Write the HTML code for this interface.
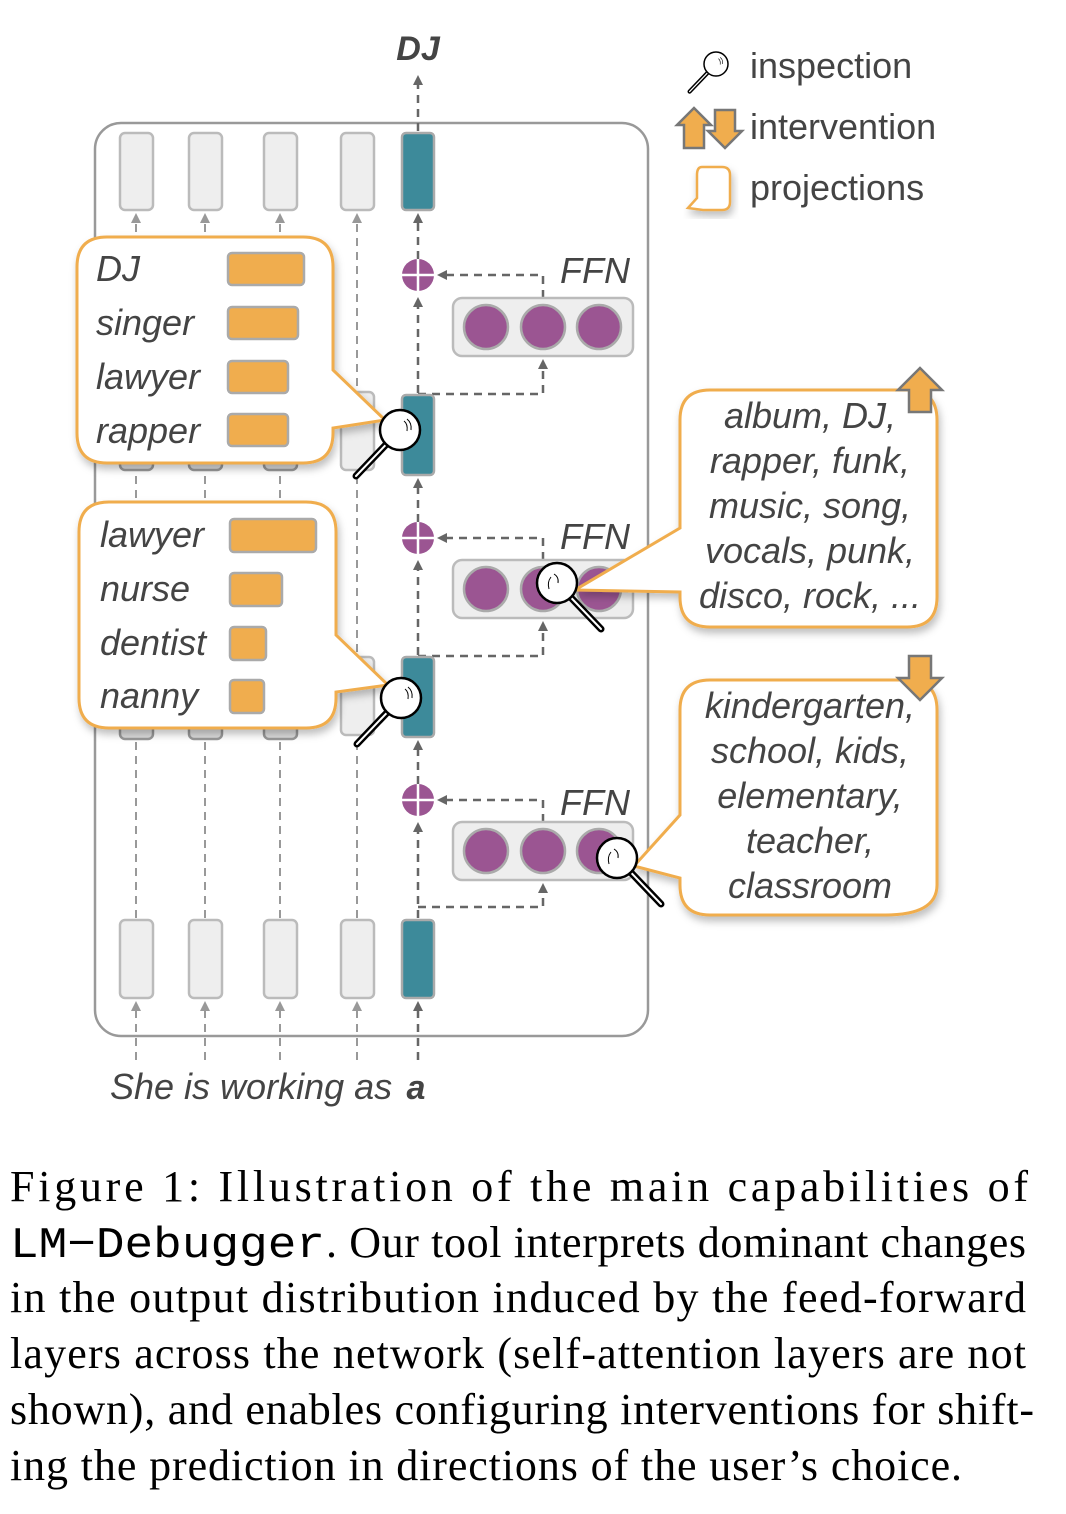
<!DOCTYPE html>
<html><head><meta charset="utf-8"><style>
html,body{margin:0;padding:0;background:#fff;}
svg{display:block;}
.it{font-family:"Liberation Sans Narrow","Liberation Sans",sans-serif;font-style:italic;fill:#444;}
.cap{font-family:"Liberation Serif",serif;font-size:44px;fill:#000;}
</style></head><body>
<svg width="1066" height="1514" viewBox="0 0 1066 1514" xmlns="http://www.w3.org/2000/svg">
<defs>
<marker id="ah" markerWidth="10" markerHeight="10" refX="5" refY="5" orient="auto" markerUnits="userSpaceOnUse"><path d="M0,0 L10,5 L0,10 Z" fill="#666"/></marker>
<marker id="ahg" markerWidth="10" markerHeight="10" refX="5" refY="5" orient="auto" markerUnits="userSpaceOnUse"><path d="M0,0 L10,5 L0,10 Z" fill="#999"/></marker>
<filter id="sh" x="-10%" y="-10%" width="130%" height="130%"><feDropShadow dx="2" dy="5" stdDeviation="4" flood-color="#000" flood-opacity="0.25"/></filter>
<g id="mag"><line x1="0" y1="0" x2="-44" y2="46" stroke="#000" stroke-width="7" stroke-linecap="round"/><line x1="0" y1="0" x2="-44" y2="46" stroke="#fff" stroke-width="2" stroke-linecap="round"/><circle cx="0" cy="0" r="20" fill="#fff" stroke="#000" stroke-width="2.5"/><path d="M4,-9 q4,3 3,10 M7,-11 q5,4 4,11" stroke="#000" fill="none" stroke-width="1"/></g>
<g id="magr"><line x1="0" y1="0" x2="44" y2="46" stroke="#000" stroke-width="7" stroke-linecap="round"/><line x1="0" y1="0" x2="44" y2="46" stroke="#fff" stroke-width="2" stroke-linecap="round"/><circle cx="0" cy="0" r="20" fill="#fff" stroke="#000" stroke-width="2.5"/><path d="M-6,-6 q-4,5 -2,12 M-3,-9 q5,3 4,9" stroke="#000" fill="none" stroke-width="1"/></g>
</defs>

<rect x="95" y="123" width="553" height="913" rx="26" fill="#fff" stroke="#999" stroke-width="2.5"/>

<g stroke="#999" stroke-width="2" stroke-dasharray="8,6" fill="none">
<line x1="136" y1="1060" x2="136" y2="1006" marker-end="url(#ahg)"/>
<line x1="205" y1="1060" x2="205" y2="1006" marker-end="url(#ahg)"/>
<line x1="280" y1="1060" x2="280" y2="1006" marker-end="url(#ahg)"/>
<line x1="357" y1="1060" x2="357" y2="1006" marker-end="url(#ahg)"/>
<line x1="136" y1="918" x2="136" y2="218" marker-end="url(#ahg)"/>
<line x1="205" y1="918" x2="205" y2="218" marker-end="url(#ahg)"/>
<line x1="280" y1="918" x2="280" y2="218" marker-end="url(#ahg)"/>
<line x1="357" y1="918" x2="357" y2="218" marker-end="url(#ahg)"/>
</g>
<g stroke="#666" stroke-width="2.5" stroke-dasharray="8,6" fill="none">
<line x1="418" y1="1060" x2="418" y2="1006" marker-end="url(#ah)"/>
<line x1="418" y1="918" x2="418" y2="827" marker-end="url(#ah)"/>
<line x1="418" y1="784" x2="418" y2="745" marker-end="url(#ah)"/>
<line x1="418" y1="655" x2="418" y2="565" marker-end="url(#ah)"/>
<line x1="418" y1="522" x2="418" y2="483" marker-end="url(#ah)"/>
<line x1="418" y1="393" x2="418" y2="302" marker-end="url(#ah)"/>
<line x1="418" y1="259" x2="418" y2="218" marker-end="url(#ah)"/>
<line x1="418" y1="131" x2="418" y2="80" marker-end="url(#ah)"/>
<polyline points="418,394 543,394 543,364" marker-end="url(#ah)"/>
<polyline points="543,298 543,275 442,275" marker-end="url(#ah)"/>
<polyline points="418,656 543,656 543,626" marker-end="url(#ah)"/>
<polyline points="543,560 543,538 442,538" marker-end="url(#ah)"/>
<polyline points="418,907 543,907 543,888" marker-end="url(#ah)"/>
<polyline points="543,822 543,800 442,800" marker-end="url(#ah)"/>
</g>

<g fill="#eee" stroke="#bbb" stroke-width="2.5">
<rect x="120" y="133" width="33" height="77" rx="5"/>
<rect x="189" y="133" width="33" height="77" rx="5"/>
<rect x="264" y="133" width="33" height="77" rx="5"/>
<rect x="341" y="133" width="33" height="77" rx="5"/>
<rect x="120" y="920" width="33" height="78" rx="5"/>
<rect x="189" y="920" width="33" height="78" rx="5"/>
<rect x="264" y="920" width="33" height="78" rx="5"/>
<rect x="341" y="920" width="33" height="78" rx="5"/>
<rect x="341" y="392" width="33" height="78" rx="5"/>
<rect x="341" y="657" width="33" height="78" rx="5"/>
<rect x="120" y="440" width="33" height="30" rx="5" fill="#ddd" stroke="#999"/>
<rect x="189" y="440" width="33" height="30" rx="5" fill="#ddd" stroke="#999"/>
<rect x="264" y="440" width="33" height="30" rx="5" fill="#ddd" stroke="#999"/>
<rect x="120" y="705" width="33" height="34" rx="5" fill="#ddd" stroke="#999"/>
<rect x="189" y="705" width="33" height="34" rx="5" fill="#ddd" stroke="#999"/>
<rect x="264" y="705" width="33" height="34" rx="5" fill="#ddd" stroke="#999"/>
</g>
<g fill="#3d8a9a" stroke="#aaa" stroke-width="2.5">
<rect x="402" y="133" width="32" height="77" rx="4"/>
<rect x="402" y="395" width="32" height="80" rx="4"/>
<rect x="402" y="657" width="32" height="80" rx="4"/>
<rect x="402" y="920" width="32" height="78" rx="4"/>
</g>

<g>
<circle cx="418" cy="275" r="16" fill="#9b5592"/><path d="M402,275 H434 M418,259 V291" stroke="#fff" stroke-width="2.5"/>
<circle cx="418" cy="538" r="16" fill="#9b5592"/><path d="M402,538 H434 M418,522 V554" stroke="#fff" stroke-width="2.5"/>
<circle cx="418" cy="800" r="16" fill="#9b5592"/><path d="M402,800 H434 M418,784 V816" stroke="#fff" stroke-width="2.5"/>
</g>

<g>
<rect x="453" y="298" width="180" height="58" rx="9" fill="#eee" stroke="#bbb" stroke-width="2.5"/>
<rect x="453" y="560" width="180" height="58" rx="9" fill="#eee" stroke="#bbb" stroke-width="2.5"/>
<rect x="453" y="822" width="180" height="58" rx="9" fill="#eee" stroke="#bbb" stroke-width="2.5"/>
<g fill="#9b5592" stroke="#aaa" stroke-width="2.5">
<circle cx="486" cy="327" r="22"/><circle cx="543" cy="327" r="22"/><circle cx="599" cy="327" r="22"/>
<circle cx="486" cy="589" r="22"/><circle cx="543" cy="589" r="22"/><circle cx="599" cy="589" r="22"/>
<circle cx="486" cy="851" r="22"/><circle cx="543" cy="851" r="22"/><circle cx="599" cy="851" r="22"/>
</g>
<text class="it" x="560" y="283" font-size="36">FFN</text>
<text class="it" x="560" y="549" font-size="36">FFN</text>
<text class="it" x="560" y="815" font-size="36">FFN</text>
</g>

<text x="418" y="60" text-anchor="middle" font-family="Liberation Sans,sans-serif" font-style="italic" font-weight="bold" font-size="34" fill="#444">DJ</text>
<text class="it" x="110" y="1099" font-size="36">She is working as</text>
<text x="416" y="1099" text-anchor="middle" font-family="Liberation Sans,sans-serif" font-style="italic" font-weight="bold" font-size="34" fill="#444">a</text>

<path filter="url(#sh)" d="M107,237 H303 Q333,237 333,267 V370 L385,420 L333,428 V433 Q333,463 303,463 H107 Q77,463 77,433 V267 Q77,237 107,237 Z" fill="#fff" stroke="#f0ad4e" stroke-width="3"/>
<g class="it" font-size="36">
<text x="96" y="281">DJ</text><text x="96" y="335">singer</text><text x="96" y="389">lawyer</text><text x="96" y="443">rapper</text>
</g>
<g fill="#f0ad4e" stroke="#aaa" stroke-width="2.5">
<rect x="228" y="253" width="76" height="32" rx="4"/>
<rect x="228" y="307" width="70" height="32" rx="4"/>
<rect x="228" y="361" width="60" height="32" rx="4"/>
<rect x="228" y="414" width="60" height="32" rx="4"/>
</g>
<use href="#mag" x="400" y="430"/>

<path filter="url(#sh)" d="M109,502 H306 Q336,502 336,532 V635 L388,685 L336,692 V698 Q336,728 306,728 H109 Q79,728 79,698 V532 Q79,502 109,502 Z" fill="#fff" stroke="#f0ad4e" stroke-width="3"/>
<g class="it" font-size="36">
<text x="100" y="547">lawyer</text><text x="100" y="601">nurse</text><text x="100" y="655">dentist</text><text x="100" y="708">nanny</text>
</g>
<g fill="#f0ad4e" stroke="#aaa" stroke-width="2.5">
<rect x="230" y="519" width="86" height="33" rx="4"/>
<rect x="230" y="573" width="52" height="33" rx="4"/>
<rect x="230" y="627" width="36" height="33" rx="4"/>
<rect x="230" y="680" width="34" height="33" rx="4"/>
</g>
<use href="#mag" x="401" y="698"/>

<path filter="url(#sh)" d="M710,390 H907 Q937,390 937,420 V597 Q937,627 907,627 H710 Q680,627 680,597 V592 L575,590 L680,528 V420 Q680,390 710,390 Z" fill="#fff" stroke="#f0ad4e" stroke-width="3"/>
<g class="it" font-size="36" text-anchor="middle">
<text x="810" y="428">album, DJ,</text><text x="810" y="473">rapper, funk,</text><text x="810" y="518">music, song,</text><text x="810" y="563">vocals, punk,</text><text x="810" y="608">disco, rock, ...</text>
</g>
<use href="#magr" x="557" y="583"/>
<path d="M909,412 V390 H898 L920,368 L942,390 H931 V412 Z" fill="#f0ad4e" stroke="#777" stroke-width="2.5"/>

<path filter="url(#sh)" d="M710,680 H907 Q937,680 937,710 V885 Q937,915 885,915 H710 Q680,915 680,885 V878 L634,866 L680,815 V710 Q680,680 710,680 Z" fill="#fff" stroke="#f0ad4e" stroke-width="3"/>
<g class="it" font-size="36" text-anchor="middle">
<text x="810" y="718">kindergarten,</text><text x="810" y="763">school, kids,</text><text x="810" y="808">elementary,</text><text x="810" y="853">teacher,</text><text x="810" y="898">classroom</text>
</g>
<use href="#magr" x="617" y="858"/>
<path d="M909,656 V678 H898 L920,700 L942,678 H931 V656 Z" fill="#f0ad4e" stroke="#777" stroke-width="2.5"/>

<!-- legend -->
<g transform="translate(716,64) scale(0.6)"><use href="#mag" x="0" y="0"/></g>
<g font-family="Liberation Sans,sans-serif" font-size="36" fill="#444">
<text x="750" y="78">inspection</text>
<text x="750" y="139">intervention</text>
<text x="750" y="200">projections</text>
</g>
<path d="M684,148 V125 H677 L694,108 L711,125 H704 V148 Z" fill="#f0ad4e" stroke="#777" stroke-width="2.5"/>
<path d="M715,110 V131 H708 L725,148 L742,131 H735 V110 Z" fill="#f0ad4e" stroke="#777" stroke-width="2.5"/>
<path filter="url(#sh)" d="M702,167 H722 Q730,167 730,175 V202 Q730,210 722,210 H703 L688,208 L697,198 V175 Q697,167 702,167 Z" fill="#fff" stroke="#f0ad4e" stroke-width="2.5"/>

<!-- caption -->
<text class="cap" x="10" y="1201" textLength="1018" lengthAdjust="spacing">Figure 1:  Illustration of the main capabilities of</text>
<text x="10" y="1257" font-family="Liberation Mono,monospace" font-size="44" textLength="315" lengthAdjust="spacingAndGlyphs">LM−Debugger</text>
<text class="cap" x="326" y="1257" textLength="700" lengthAdjust="spacing">. Our tool interprets dominant changes</text>
<text class="cap" x="10" y="1312" textLength="1016" lengthAdjust="spacing">in the output distribution induced by the feed-forward</text>
<text class="cap" x="10" y="1368" textLength="1016" lengthAdjust="spacing">layers across the network (self-attention layers are not</text>
<text class="cap" x="10" y="1424" textLength="1024" lengthAdjust="spacing">shown), and enables configuring interventions for shift-</text>
<text class="cap" x="10" y="1480" textLength="952" lengthAdjust="spacing">ing the prediction in directions of the user’s choice.</text>
</svg>
</body></html>
